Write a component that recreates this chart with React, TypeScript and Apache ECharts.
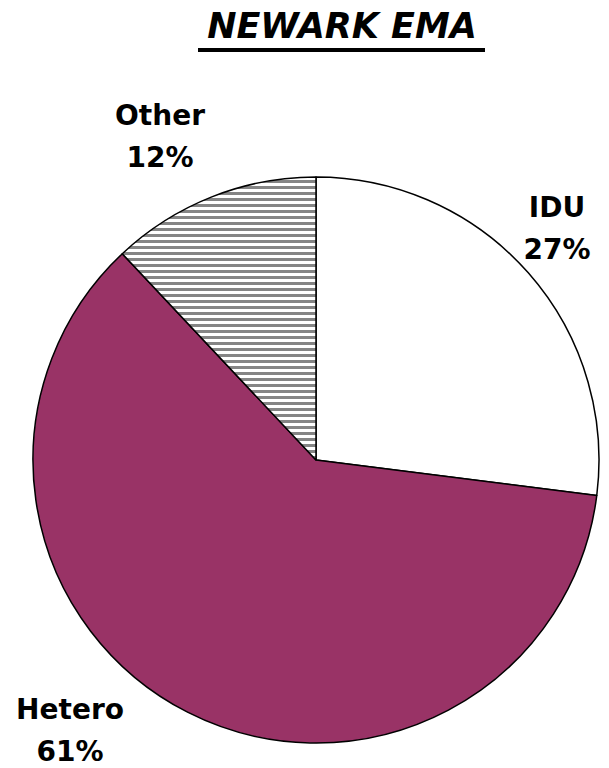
import React, { useEffect, useRef } from "react";
import * as echarts from "echarts";

const titleText = "NEWARK EMA";
const categories = ["IDU", "Hetero", "Other"];
const values = [27, 61, 12];
const colors = ["#ffffff", "#993366", "hatch"];
// label anchor positions (text centres) for each category
const labelPos: Record<string, [number, number]> = {
  IDU: [557, 228],
  Hetero: [70, 730],
  Other: [160, 136],
};

function makeHatch(): HTMLCanvasElement {
  const c = document.createElement("canvas");
  c.width = 8;
  c.height = 6;
  const ctx = c.getContext("2d")!;
  ctx.fillStyle = "#ffffff";
  ctx.fillRect(0, 0, 8, 6);
  ctx.fillStyle = "#858585";
  ctx.fillRect(0, 0, 8, 3);
  return c;
}

export default function App() {
  const ref = useRef<HTMLDivElement>(null);
  useEffect(() => {
    if (!ref.current) return;
    const chart = echarts.init(ref.current, null, { renderer: "svg" });
    const hatch = makeHatch();
    chart.setOption({
      animation: false,
      backgroundColor: "#ffffff",
      graphic: [
        {
          type: "text",
          x: 342,
          y: 8,
          style: {
            text: titleText,
            fontFamily: "DejaVu Sans",
            fontWeight: "bold",
            fontStyle: "italic",
            fontSize: 35,
            fill: "#000",
            textAlign: "center",
            textVerticalAlign: "top",
          },
        },
        {
          type: "rect",
          shape: { x: 198, y: 48, width: 287, height: 4 },
          style: { fill: "#000" },
        },
      ],
      series: [
        {
          type: "pie",
          center: [316, 460],
          radius: 283,
          startAngle: 90,
          clockwise: true,
          emphasis: { disabled: true },
          itemStyle: { borderColor: "#000", borderWidth: 1.5 },
          label: {
            show: true,
            position: "inside",
            overflow: "none",
            formatter: "{b}\n{c}%",
            fontFamily: "DejaVu Sans",
            fontWeight: "bold",
            fontSize: 28,
            lineHeight: 42,
            color: "#000",
            align: "center",
          },
          labelLine: { show: false },
          labelLayout: (params: any) => {
            const name = categories[params.dataIndex];
            const p = labelPos[name];
            return { x: p[0], y: p[1], align: "center", verticalAlign: "middle" };
          },
          data: categories.map((c, i) => ({
            name: c,
            value: values[i],
            itemStyle: {
              color: colors[i] === "hatch" ? { image: hatch, repeat: "repeat" } : colors[i],
            },
          })),
        },
      ],
    });
    return () => chart.dispose();
  }, []);
  return (
    <div
      ref={ref}
      style={{ position: "fixed", left: 0, top: 0, width: 609, height: 768 }}
    />
  );
}
